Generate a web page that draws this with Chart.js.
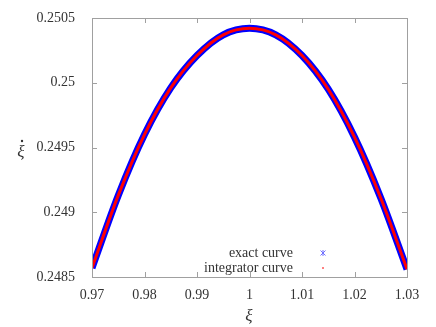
<!DOCTYPE html>
<html lang="en">
<head>
  <meta charset="UTF-8">
  <title>xi dot vs xi</title>
  <script src="https://cdn.jsdelivr.net/npm/chart.js"></script>
  <style>
    html, body { margin: 0; padding: 0; background: #fff; }
    #wrap { width: 436px; height: 327px; }
  </style>
</head>
<body>
<div id="wrap"><canvas id="xiChart" width="436" height="327"></canvas></div>

<script>
  // values
  const xiValues = [0.970, 0.975, 0.980, 0.985, 0.990, 0.995, 1.000, 1.005, 1.010, 1.015, 1.020, 1.025, 1.030];
  const exactValues = [0.24857, 0.24913, 0.24960, 0.24996, 0.25021, 0.25037, 0.25042, 0.25037, 0.25021, 0.24995, 0.24958, 0.24911, 0.24856];
  const integratorValues = [0.24857, 0.24913, 0.24960, 0.24996, 0.25021, 0.25037, 0.25042, 0.25037, 0.25021, 0.24995, 0.24958, 0.24911, 0.24856];
  const xTicks = [0.97, 0.98, 0.99, 1, 1.01, 1.02, 1.03];
  const yTicks = [0.2485, 0.249, 0.2495, 0.25, 0.2505];
  const xLabel = 'ξ';
  const yLabel = 'ξ';

  const serif = '"Liberation Serif", "DejaVu Serif", serif';
  const axisGray = '#a0a0a0';
  const textColor = '#333333';

  function toPoints(ys) {
      return xiValues.map((x, i) => ({ x: x, y: ys[i] }));
  }

  // gnuplot-like box, inward ticks, legend and axis labels
  const gnuplotLook = {
      id: 'gnuplotLook',
      afterDraw(chart) {
          const ctx = chart.ctx;
          const a = chart.chartArea;
          const xs = chart.scales.x, ys = chart.scales.y;
          ctx.save();
          ctx.strokeStyle = axisGray;
          ctx.lineWidth = 1;
          ctx.strokeRect(Math.round(a.left) + 0.5, Math.round(a.top) + 0.5,
                         Math.round(a.right - a.left), Math.round(a.bottom - a.top));
          ctx.beginPath();
          xTicks.forEach(v => {
              const px = Math.round(xs.getPixelForValue(v)) + 0.5;
              ctx.moveTo(px, a.bottom); ctx.lineTo(px, a.bottom - 5);
              ctx.moveTo(px, a.top); ctx.lineTo(px, a.top + 5);
          });
          yTicks.forEach(v => {
              const py = Math.round(ys.getPixelForValue(v)) + 0.5;
              ctx.moveTo(a.left, py); ctx.lineTo(a.left + 5, py);
              ctx.moveTo(a.right, py); ctx.lineTo(a.right - 5, py);
          });
          ctx.stroke();

          // legend (text on the left, sample on the right)
          ctx.font = '14px ' + serif;
          ctx.fillStyle = textColor;
          ctx.textAlign = 'right';
          ctx.textBaseline = 'middle';
          const lx = 293, sx = 323;
          const rows = [253, 268];
          chart.data.datasets.forEach((ds, i) => {
              ctx.fillText(ds.label, lx, rows[i]);
          });
          // exact curve sample: small asterisk
          ctx.strokeStyle = '#7070ff';
          ctx.lineWidth = 1;
          ctx.beginPath();
          ctx.moveTo(sx - 2.5, rows[0] - 2.5); ctx.lineTo(sx + 2.5, rows[0] + 2.5);
          ctx.moveTo(sx - 2.5, rows[0] + 2.5); ctx.lineTo(sx + 2.5, rows[0] - 2.5);
          ctx.moveTo(sx, rows[0] - 3); ctx.lineTo(sx, rows[0] + 3);
          ctx.stroke();
          // integrator curve sample: tiny dot
          ctx.fillStyle = '#ff8080';
          ctx.fillRect(sx - 1, rows[1] - 1, 2, 2);

          // axis labels
          ctx.fillStyle = textColor;
          ctx.textAlign = 'center';
          ctx.font = 'italic 17px ' + serif;
          ctx.fillText(xLabel, 249, 317);
          ctx.fillText(yLabel, 21, 153);
          // dot over the y label
          ctx.beginPath();
          ctx.arc(22, 141, 1.2, 0, Math.PI * 2);
          ctx.fill();
          ctx.restore();
      }
  };

  const ctx = document.getElementById('xiChart').getContext('2d');
  new Chart(ctx, {
      type: 'scatter',
      data: {
          datasets: [{
              label: 'exact curve',
              data: toPoints(exactValues),
              showLine: true,
              borderColor: '#0000ff',
              borderWidth: 7,
              pointRadius: 0,
              order: 2,
              cubicInterpolationMode: 'monotone'
          }, {
              label: 'integrator curve',
              data: toPoints(integratorValues),
              showLine: true,
              borderColor: '#ff0000',
              borderWidth: 3,
              pointRadius: 0,
              order: 1,
              cubicInterpolationMode: 'monotone'
          }]
      },
      options: {
          responsive: false,
          animation: false,
          layout: { padding: { left: 0, right: 29, top: 18, bottom: 0 } },
          plugins: {
              legend: { display: false },
              tooltip: { enabled: false }
          },
          scales: {
              x: {
                  type: 'linear',
                  min: 0.97,
                  max: 1.03,
                  afterBuildTicks: scale => { scale.ticks = xTicks.map(v => ({ value: v })); },
                  afterFit: scale => { scale.height = 50; },
                  grid: { display: false },
                  border: { display: false },
                  ticks: {
                      color: textColor,
                      font: { family: serif, size: 14 },
                      padding: 2,
                      maxRotation: 0,
                      callback: v => String(+v.toFixed(4))
                  }
              },
              y: {
                  type: 'linear',
                  min: 0.2485,
                  max: 0.2505,
                  afterBuildTicks: scale => { scale.ticks = yTicks.map(v => ({ value: v })); },
                  afterFit: scale => { scale.width = 92; },
                  grid: { display: false },
                  border: { display: false },
                  ticks: {
                      color: textColor,
                      font: { family: serif, size: 14 },
                      padding: 9,
                      callback: v => String(+v.toFixed(5))
                  }
              }
          }
      },
      plugins: [gnuplotLook]
  });
</script>
</body>
</html>
